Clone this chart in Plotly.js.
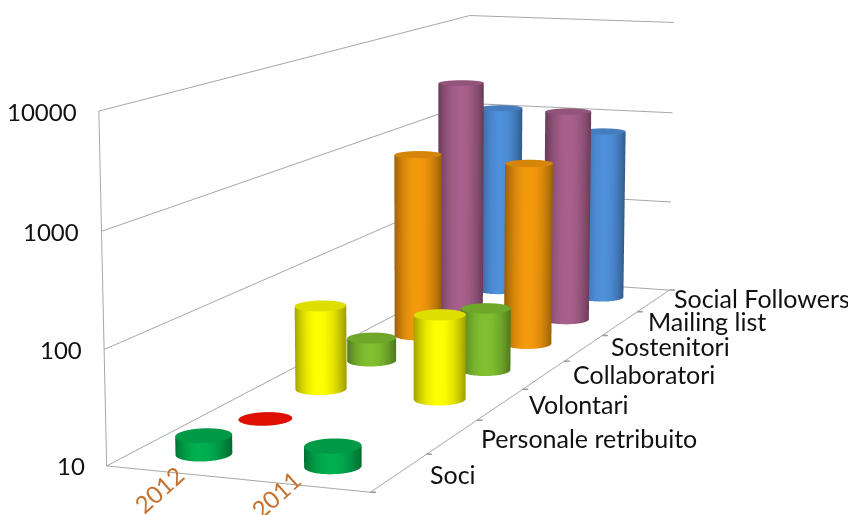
<!DOCTYPE html>
<html><head><meta charset="utf-8">
<script src="https://cdn.plot.ly/plotly-3.0.1.min.js"></script>
<style>html,body{margin:0;padding:0;background:#fff;overflow:hidden}
#w{width:850px;height:515px;overflow:hidden;position:relative}
#c{position:absolute;left:-2px;top:-856px;width:850px;height:2236px}</style>
</head><body><div id="w"><div id="c"></div></div>
<script>
const years = ["2012","2011"];
const seriesNames = ["Soci","Personale retribuito","Volontari","Collaboratori","Sostenitori","Mailing list","Social Followers"];
const seriesColors = [[0,176,80],[255,16,0],[255,255,0],[128,192,48],[245,154,12],[168,96,140],[79,144,220]];
const values2012 = [14.5,10.2,63,17,760,2960,1120];
const values2011 = [15,null,63,41,710,1660,700];
const zTicks = [10,100,1000,10000];
const seriesTicks = [-0.5,0.5,1.5,2.5,3.5,4.5,5.5,6.5];

const viewDir=[0.35,-0.937];
function shadeCol(rgb,f){return "rgb("+rgb.map(c=>Math.round(c*f)).join(",")+")";}
function cyl(xc,yc,v,rgb,name){
  const n=72,rx=0.2,ry=0.2,X=[],Y=[],Z=[],I=[],J=[],K=[],C=[];
  if(v>10.5){
    for(let i=0;i<n;i++){const a=2*Math.PI*i/n,ca=Math.cos(a),sa=Math.sin(a);
      const t=Math.max(0,ca*viewDir[0]+sa*viewDir[1]);
      const f=0.62+0.38*t*t;
      X.push(xc+rx*ca,xc+rx*ca);
      Y.push(yc+ry*sa,yc+ry*sa);
      Z.push(10,v);
      C.push(shadeCol(rgb,f),shadeCol(rgb,f));}
    for(let i=0;i<n;i++){const a=2*i,b=2*((i+1)%n);
      I.push(a,b);J.push(b,b+1);K.push(a+1,a+1);}
  }
  const capF=0.87, capC=shadeCol(rgb,capF);
  const c=X.length; X.push(xc);Y.push(yc);Z.push(v);C.push(capC);
  const s=X.length;
  for(let i=0;i<n;i++){const a=2*Math.PI*i/n;X.push(xc+rx*Math.cos(a));Y.push(yc+ry*Math.sin(a));Z.push(v);C.push(capC);}
  for(let i=0;i<n;i++){I.push(c);J.push(s+i);K.push(s+(i+1)%n);}
  return {type:"mesh3d",x:X,y:Y,z:Z,i:I,j:J,k:K,vertexcolor:C,name:name,hoverinfo:"skip",showscale:false,
    flatshading:false,lighting:{ambient:1,diffuse:0,specular:0,roughness:1,fresnel:0}};
}
const data=[];
seriesNames.forEach((s,i)=>{
  [values2012,values2011].forEach((vals,xi)=>{ if(vals[i]!=null) data.push(cyl(xi,i,vals[i],seriesColors[i],s)); });
});
const axBase={showbackground:false,showspikes:false,zeroline:false,showticklabels:false,title:{text:""},showline:true,linecolor:"#a6a6a6",linewidth:2};
const font={family:"Lato, sans-serif",size:25,color:"#111"};
const numFont={...font,size:24};
const labelShift=[29,27,27,27,25,26,18];
const labelLift=[0,0,1,2,3,3,4];
const yearShift=[[-12,-17],[-27,-9]];
const ann=[];
zTicks.forEach(t=>ann.push({x:-0.5,y:-0.5,z:Math.log10(t),text:String(t),showarrow:false,xanchor:"right",xshift:-20,font:numFont}));
years.forEach((t,i)=>ann.push({x:i,y:-0.5,z:1,text:t,showarrow:false,textangle:-42,xshift:yearShift[i][0],yshift:yearShift[i][1],font:{...numFont,color:"#c5702e"}}));
seriesNames.forEach((t,i)=>ann.push({x:1.5,y:i,z:1,text:t,showarrow:false,xanchor:"left",xshift:labelShift[i],yshift:labelLift[i]-1,font}));
seriesTicks.forEach(v=>ann.push({x:1.5,y:v,z:1,text:"",showarrow:true,arrowhead:0,arrowwidth:1.5,arrowcolor:"#999",ax:7,ay:0,standoff:0}));
const layout={width:850,height:2236,margin:{l:0,r:0,t:0,b:0},paper_bgcolor:"#fff",showlegend:false,
 scene:{domain:{x:[0,1],y:[0,1]},bgcolor:"#fff",
  aspectmode:"manual",aspectratio:{x:0.794,y:3.035,z:1},
  camera:{eye:{x:2.997,y:-8.072,z:1.434},center:{x:-0.006,y:-0.033,z:-0.151},up:{x:0.012,y:0.0045,z:1},projection:{type:"perspective"}},
  xaxis:{...axBase,range:[-0.5,1.5],ticks:"",showgrid:false},
  yaxis:{...axBase,range:[-0.5,6.5],ticks:"",showgrid:false},
  zaxis:{...axBase,type:"log",range:[1,4],tickvals:zTicks,ticks:"",showgrid:true,gridcolor:"#a6a6a6",gridwidth:2},
  annotations:ann}};
Plotly.newPlot("c",data,layout,{displayModeBar:false});
</script></body></html>
